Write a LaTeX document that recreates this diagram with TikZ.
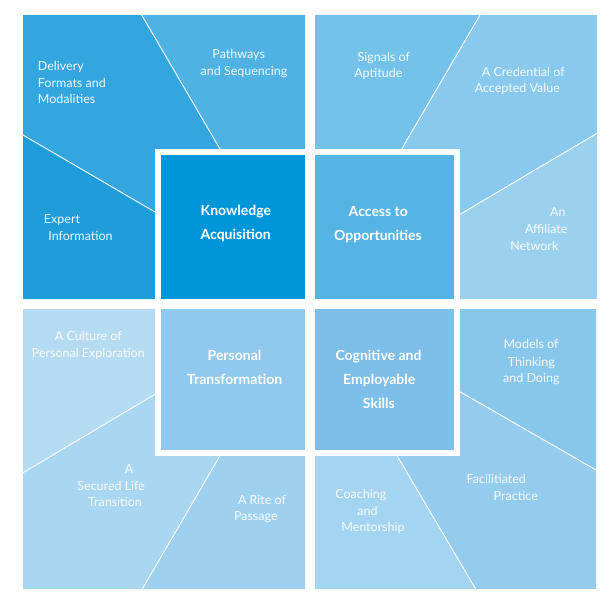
\documentclass[tikz,border=0pt]{standalone}
\usepackage{fontspec}
\setmainfont{Lato}
\definecolor{cDeliv}{HTML}{34A6DF}
\definecolor{cPath}{HTML}{4FB2E3}
\definecolor{cExpert}{HTML}{1F9DDB}
\definecolor{cKA}{HTML}{0096D9}
\definecolor{cAO}{HTML}{56B4E5}
\definecolor{cSig}{HTML}{74C1EA}
\definecolor{cCred}{HTML}{88C9ED}
\definecolor{cAff}{HTML}{9BD1EF}
\definecolor{cCult}{HTML}{B4DBF2}
\definecolor{cSec}{HTML}{A9D6F1}
\definecolor{cRite}{HTML}{9ED1F0}
\definecolor{cPT}{HTML}{91C9EE}
\definecolor{cCE}{HTML}{7EBFEA}
\definecolor{cMod}{HTML}{88C7EC}
\definecolor{cFac}{HTML}{95CCEE}
\definecolor{cCoach}{HTML}{A3D4F1}
\tikzset{
  lab/.style={text=white, text opacity=0.92, font=\fontsize{12.5}{15}\selectfont, inner sep=0pt, anchor=base},
  labw/.style={lab, anchor=base west},
  head/.style={text=white, font=\fontsize{14}{17}\selectfont\bfseries, inner sep=0pt, anchor=base},
  divider/.style={draw=white, line width=0.9pt},
  centrebox/.style={draw=none, inner sep=0pt, anchor=north west}
}
\newcommand\Ln[5]{\node[#1] (#2) at (#3,#4) {#5};}
\begin{document}
\begin{tikzpicture}[x=1pt,y=-1pt]
\useasboundingbox (0,0) rectangle (612,607);
\fill[white] (0,0) rectangle (612,607);
% ---------- top-left quadrant ----------
\fill[cDeliv] (23,15) rectangle (305,299);
\fill[cPath] (141.7,15) -- (305,15) -- (305,149) -- (220,149) -- cycle;
\fill[cExpert] (23,135) -- (155,212) -- (155,299) -- (23,299) -- cycle;
\coordinate (tlA) at (141.7,15); \coordinate (tlB) at (220,149);
\coordinate (tlC) at (23,135);   \coordinate (tlD) at (155,212);
\draw[divider] (tlA) -- (tlB);
\draw[divider] (tlC) -- (tlD);
% ---------- top-right quadrant ----------
\fill[cCred] (315,15) rectangle (597,299);
\fill[cSig] (315,15) -- (480,15) -- (401.7,149) -- (315,149) -- cycle;
\fill[cAff] (597,133.3) -- (597,299) -- (460,299) -- (460,214.3) -- cycle;
\coordinate (trA) at (480,15);    \coordinate (trB) at (401.7,149);
\coordinate (trC) at (597,133.3); \coordinate (trD) at (460,214.3);
\draw[divider] (trA) -- (trB);
\draw[divider] (trC) -- (trD);
% ---------- bottom-left quadrant ----------
\fill[cSec] (23,309) rectangle (305,589);
\fill[cCult] (23,309) -- (155,309) -- (155,394.3) -- (23,472.7) -- cycle;
\fill[cRite] (220,455.7) -- (305,455.7) -- (305,589) -- (142.3,589) -- cycle;
\coordinate (blA) at (155,394.3); \coordinate (blB) at (23,472.7);
\coordinate (blC) at (220,455.7); \coordinate (blD) at (142.3,589);
\draw[divider] (blA) -- (blB);
\draw[divider] (blC) -- (blD);
% ---------- bottom-right quadrant ----------
\fill[cFac] (315,309) rectangle (596,589);
\fill[cMod] (460,309) -- (596,309) -- (596,470) -- (460,391.7) -- cycle;
\fill[cCoach] (315,455.7) -- (397,455.7) -- (475.7,589) -- (315,589) -- cycle;
\coordinate (brA) at (460,391.7); \coordinate (brB) at (596,470);
\coordinate (brC) at (397,455.7); \coordinate (brD) at (475.7,589);
\draw[divider] (brA) -- (brB);
\draw[divider] (brC) -- (brD);
% ---------- central frame and boxes ----------
\fill[white] (155,149) rectangle (460,455.7);
\fill[cKA] (161,155) rectangle (305,299);
\fill[cAO] (315,155) rectangle (454,299);
\fill[cPT] (161,309) rectangle (305,450);
\fill[cCE] (315,309) rectangle (454,450);
% ---------- centre headings ----------
\Ln{head}{ka1}{235.8}{215}{Knowledge}
\Ln{head}{ka2}{235.7}{239}{Acquisition}
\Ln{head}{ao1}{378.3}{216}{Access to}
\Ln{head}{ao2}{378}{240}{Opportunities}
\Ln{head}{pt1}{234.5}{360}{Personal}
\Ln{head}{pt2}{234.7}{384}{Transformation}
\Ln{head}{ce1}{378.5}{360}{Cognitive and}
\Ln{head}{ce2}{379.2}{384.3}{Employable}
\Ln{head}{ce3}{378.8}{408.3}{Skills}
% ---------- labels ----------
\Ln{labw}{de1}{37.7}{70.5}{Delivery}
\Ln{labw}{de2}{37.7}{87.2}{Formats and}
\Ln{labw}{de3}{37.7}{103.8}{Modalities}
\Ln{lab}{pa1}{238.7}{58.8}{Pathways}
\Ln{lab}{pa2}{244}{75.5}{and Sequencing}
\Ln{lab}{ex1}{62}{223.8}{Expert}
\Ln{lab}{ex2}{80.5}{240.5}{Information}
\Ln{lab}{si1}{383.8}{61.8}{Signals of}
\Ln{lab}{si2}{378.3}{77.8}{Aptitude}
\Ln{lab}{cr1}{523.3}{76.2}{A Credential of}
\Ln{lab}{cr2}{517.3}{92.8}{Accepted Value}
\Ln{lab}{af1}{557.8}{216.8}{An}
\Ln{lab}{af2}{546.2}{233.8}{Affiliate}
\Ln{lab}{af3}{534.3}{250.2}{Network}
\Ln{lab}{cu1}{88.3}{340.2}{A Culture of}
\Ln{lab}{cu2}{88.3}{357.2}{Personal Exploration}
\Ln{lab}{se1}{129.2}{473.8}{A}
\Ln{lab}{se2}{111.2}{490.5}{Secured Life}
\Ln{lab}{se3}{115}{506.8}{Transition}
\Ln{lab}{ri1}{262}{504.5}{A Rite of}
\Ln{lab}{ri2}{255.8}{520.5}{Passage}
\Ln{lab}{mo1}{531}{348.8}{Models of}
\Ln{lab}{mo2}{531.3}{366.2}{Thinking}
\Ln{lab}{mo3}{531.3}{382.8}{and Doing}
\Ln{lab}{fa1}{496.3}{483.8}{Facilitiated}
\Ln{lab}{fa2}{515.8}{500.5}{Practice}
\Ln{lab}{co1}{360.8}{498.5}{Coaching}
\Ln{lab}{co2}{367.5}{515.5}{and}
\Ln{lab}{co3}{373}{531.8}{Mentorship}
\end{tikzpicture}
\end{document}
